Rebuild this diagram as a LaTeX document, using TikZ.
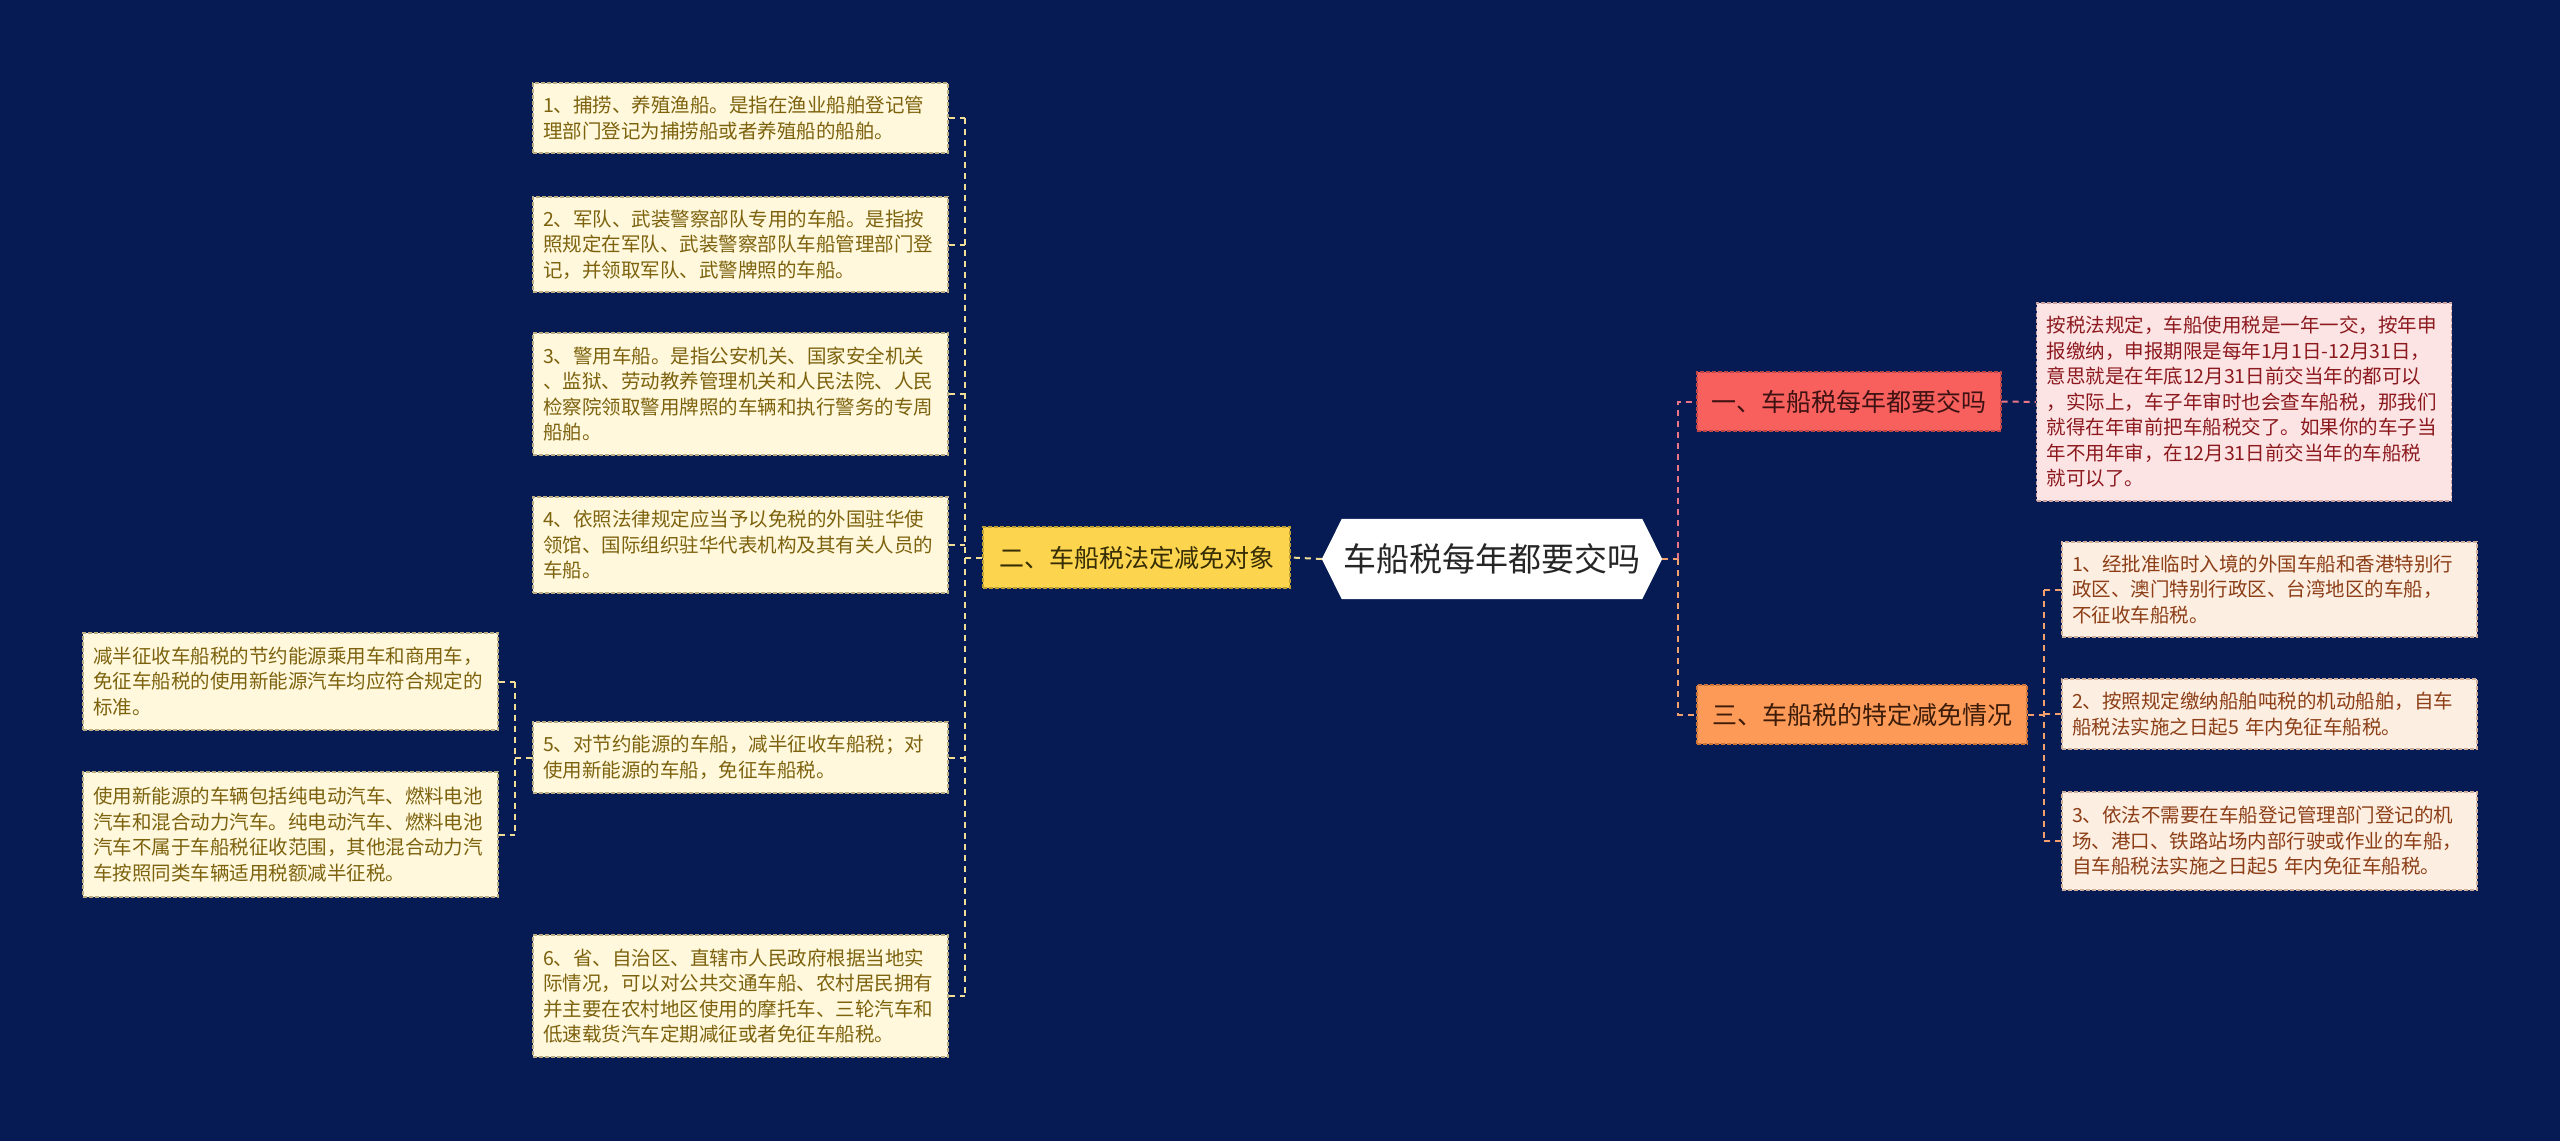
\documentclass[tikz,border=0pt]{standalone}
\usepackage{fontspec}
\setmainfont{Noto Sans CJK SC}
\usetikzlibrary{backgrounds}
\definecolor{bg}{RGB}{6,27,84}
\definecolor{cream}{RGB}{255,248,220}
\definecolor{creamb}{RGB}{185,172,130}
\definecolor{creamt}{RGB}{125,98,14}
\definecolor{ybr}{RGB}{252,212,77}
\definecolor{ybrb}{RGB}{190,160,50}
\definecolor{ybrt}{RGB}{55,45,5}
\definecolor{rbr}{RGB}{248,96,94}
\definecolor{rbrb}{RGB}{190,70,70}
\definecolor{rbrt}{RGB}{62,18,18}
\definecolor{pinkl}{RGB}{253,228,228}
\definecolor{pinkb}{RGB}{200,160,160}
\definecolor{pinkt}{RGB}{140,25,30}
\definecolor{obr}{RGB}{253,154,88}
\definecolor{obrb}{RGB}{200,115,60}
\definecolor{obrt}{RGB}{60,28,8}
\definecolor{orl}{RGB}{253,238,226}
\definecolor{orb}{RGB}{205,175,155}
\definecolor{ort}{RGB}{140,62,22}
\definecolor{lcy}{RGB}{240,222,150}
\definecolor{lcp}{RGB}{232,118,135}
\definecolor{lco}{RGB}{242,160,110}
\begin{document}
\begin{tikzpicture}[x=1pt,y=-1pt,
  boxb/.style={dash pattern=on 4pt off 2pt, line width=1.2pt},
  leafc/.style={boxb, draw=creamb, fill=cream, text=creamt, text width=395pt, inner xsep=10pt, inner ysep=0pt, align=left, font=\fontsize{19.5}{25.5}\selectfont},
  leafp/.style={leafc, draw=pinkb, fill=pinkl, text=pinkt},
  leafo/.style={leafc, draw=orb, fill=orl, text=ort},
  branch/.style={boxb, inner sep=0pt, font=\fontsize{25}{30}\selectfont},
  conn/.style={line width=2pt, dash pattern=on 6pt off 5pt},
]
\begin{scope}[on background layer]
\fill[bg] (0,0) rectangle (2560,1141);
\end{scope}
\useasboundingbox (0,0) rectangle (2560,1141);

% root
\node[inner sep=0pt, minimum width=300pt, minimum height=80pt, text=black!85, font=\fontsize{33}{38}\selectfont] (root) at (1492,559) {车船税每年都要交吗};
\coordinate (rootL) at ([xshift=-20pt]root.west);
\coordinate (rootR) at ([xshift=20pt]root.east);
\begin{scope}[on background layer]
\fill[white] (root.north west) -- (root.north east) -- (rootR) -- (root.south east) -- (root.south west) -- (rootL) -- cycle;
\end{scope}

% branches
\node[branch, draw=ybrb, fill=ybr, text=ybrt, minimum width=307pt, minimum height=61pt] (two) at (1136.5,557.5) {二、车船税法定减免对象};
\node[branch, draw=rbrb, fill=rbr, text=rbrt, minimum width=304pt, minimum height=59pt] (one) at (1849,401.5) {一、车船税每年都要交吗};
\node[branch, draw=obrb, fill=obr, text=obrt, minimum width=330pt, minimum height=59pt] (three) at (1862,714.5) {三、车船税的特定减免情况};

% left leaves
\node[leafc, minimum height=70pt] (L1) at (740.5,118) {1、捕捞、养殖渔船。是指在渔业船舶登记管\\理部门登记为捕捞船或者养殖船的船舶。};
\node[leafc, minimum height=95pt] (L2) at (740.5,244.5) {2、军队、武装警察部队专用的车船。是指按\\照规定在军队、武装警察部队车船管理部门登\\记，并领取军队、武警牌照的车船。};
\node[leafc, minimum height=122pt] (L3) at (740.5,394) {3、警用车船。是指公安机关、国家安全机关\\、监狱、劳动教养管理机关和人民法院、人民\\检察院领取警用牌照的车辆和执行警务的专周\\船舶。};
\node[leafc, minimum height=96pt] (L4) at (740.5,545) {4、依照法律规定应当予以免税的外国驻华使\\领馆、国际组织驻华代表机构及其有关人员的\\车船。};
\node[leafc, minimum height=71pt] (L5) at (740.5,757.5) {5、对节约能源的车船，减半征收车船税；对\\使用新能源的车船，免征车船税。};
\node[leafc, minimum height=122pt] (L6) at (740.5,996) {6、省、自治区、直辖市人民政府根据当地实\\际情况，可以对公共交通车船、农村居民拥有\\并主要在农村地区使用的摩托车、三轮汽车和\\低速载货汽车定期减征或者免征车船税。};
\node[leafc, minimum height=97pt] (S1) at (290.5,681.5) {减半征收车船税的节约能源乘用车和商用车，\\免征车船税的使用新能源汽车均应符合规定的\\标准。};
\node[leafc, minimum height=125pt] (S2) at (290.5,834.5) {使用新能源的车辆包括纯电动汽车、燃料电池\\汽车和混合动力汽车。纯电动汽车、燃料电池\\汽车不属于车船税征收范围，其他混合动力汽\\车按照同类车辆适用税额减半征税。};

% right leaves
\node[leafp, minimum height=198pt] (P) at (2244,402) {按税法规定，车船使用税是一年一交，按年申\\报缴纳，申报期限是每年1月1日-12月31日，\\意思就是在年底12月31日前交当年的都可以\\，实际上，车子年审时也会查车船税，那我们\\就得在年审前把车船税交了。如果你的车子当\\年不用年审，在12月31日前交当年的车船税\\就可以了。};
\node[leafo, minimum height=95pt] (T1) at (2269.5,589.5) {1、经批准临时入境的外国车船和香港特别行\\政区、澳门特别行政区、台湾地区的车船，\\不征收车船税。};
\node[leafo, minimum height=70pt] (T2) at (2269.5,714) {2、按照规定缴纳船舶吨税的机动船舶，自车\\船税法实施之日起5 年内免征车船税。};
\node[leafo, minimum height=98pt] (T3) at (2269.5,841) {3、依法不需要在车船登记管理部门登记的机\\场、港口、铁路站场内部行驶或作业的车船，\\自车船税法实施之日起5 年内免征车船税。};

% bus coordinates
\coordinate (lb) at (965,0);
\coordinate (sb) at (515,0);
\coordinate (rb) at (1678,0);
\coordinate (tb) at (2044,0);

% connectors left
\draw[conn, lcy] (rootL) -- (two.east);
\draw[conn, lcy] (two.west) -- (two.west -| lb);
\draw[conn, lcy] (lb |- L1.east) -- (lb |- L6.east);
\foreach \n in {L1,L2,L3,L4,L5,L6} \draw[conn, lcy] (\n.east) -- (\n.east -| lb);
\draw[conn, lcy] (L5.west) -- (L5.west -| sb);
\draw[conn, lcy] (sb |- S1.east) -- (sb |- S2.east);
\foreach \n in {S1,S2} \draw[conn, lcy] (\n.east) -- (\n.east -| sb);

% connectors right
\draw[conn, lco] (rootR) -- (rootR -| rb);
\draw[conn, lcp] (rb |- root.east) |- (one.west);
\draw[conn, lco] (rb |- root.east) |- (three.west);
\draw[conn, lcp] (one.east) -- (P.west);
\draw[conn, lco] (three.east) -- (three.east -| tb);
\draw[conn, lco] (tb |- T1.west) -- (tb |- T3.west);
\foreach \n in {T1,T2,T3} \draw[conn, lco] (\n.west) -- (\n.west -| tb);
\end{tikzpicture}
\end{document}
